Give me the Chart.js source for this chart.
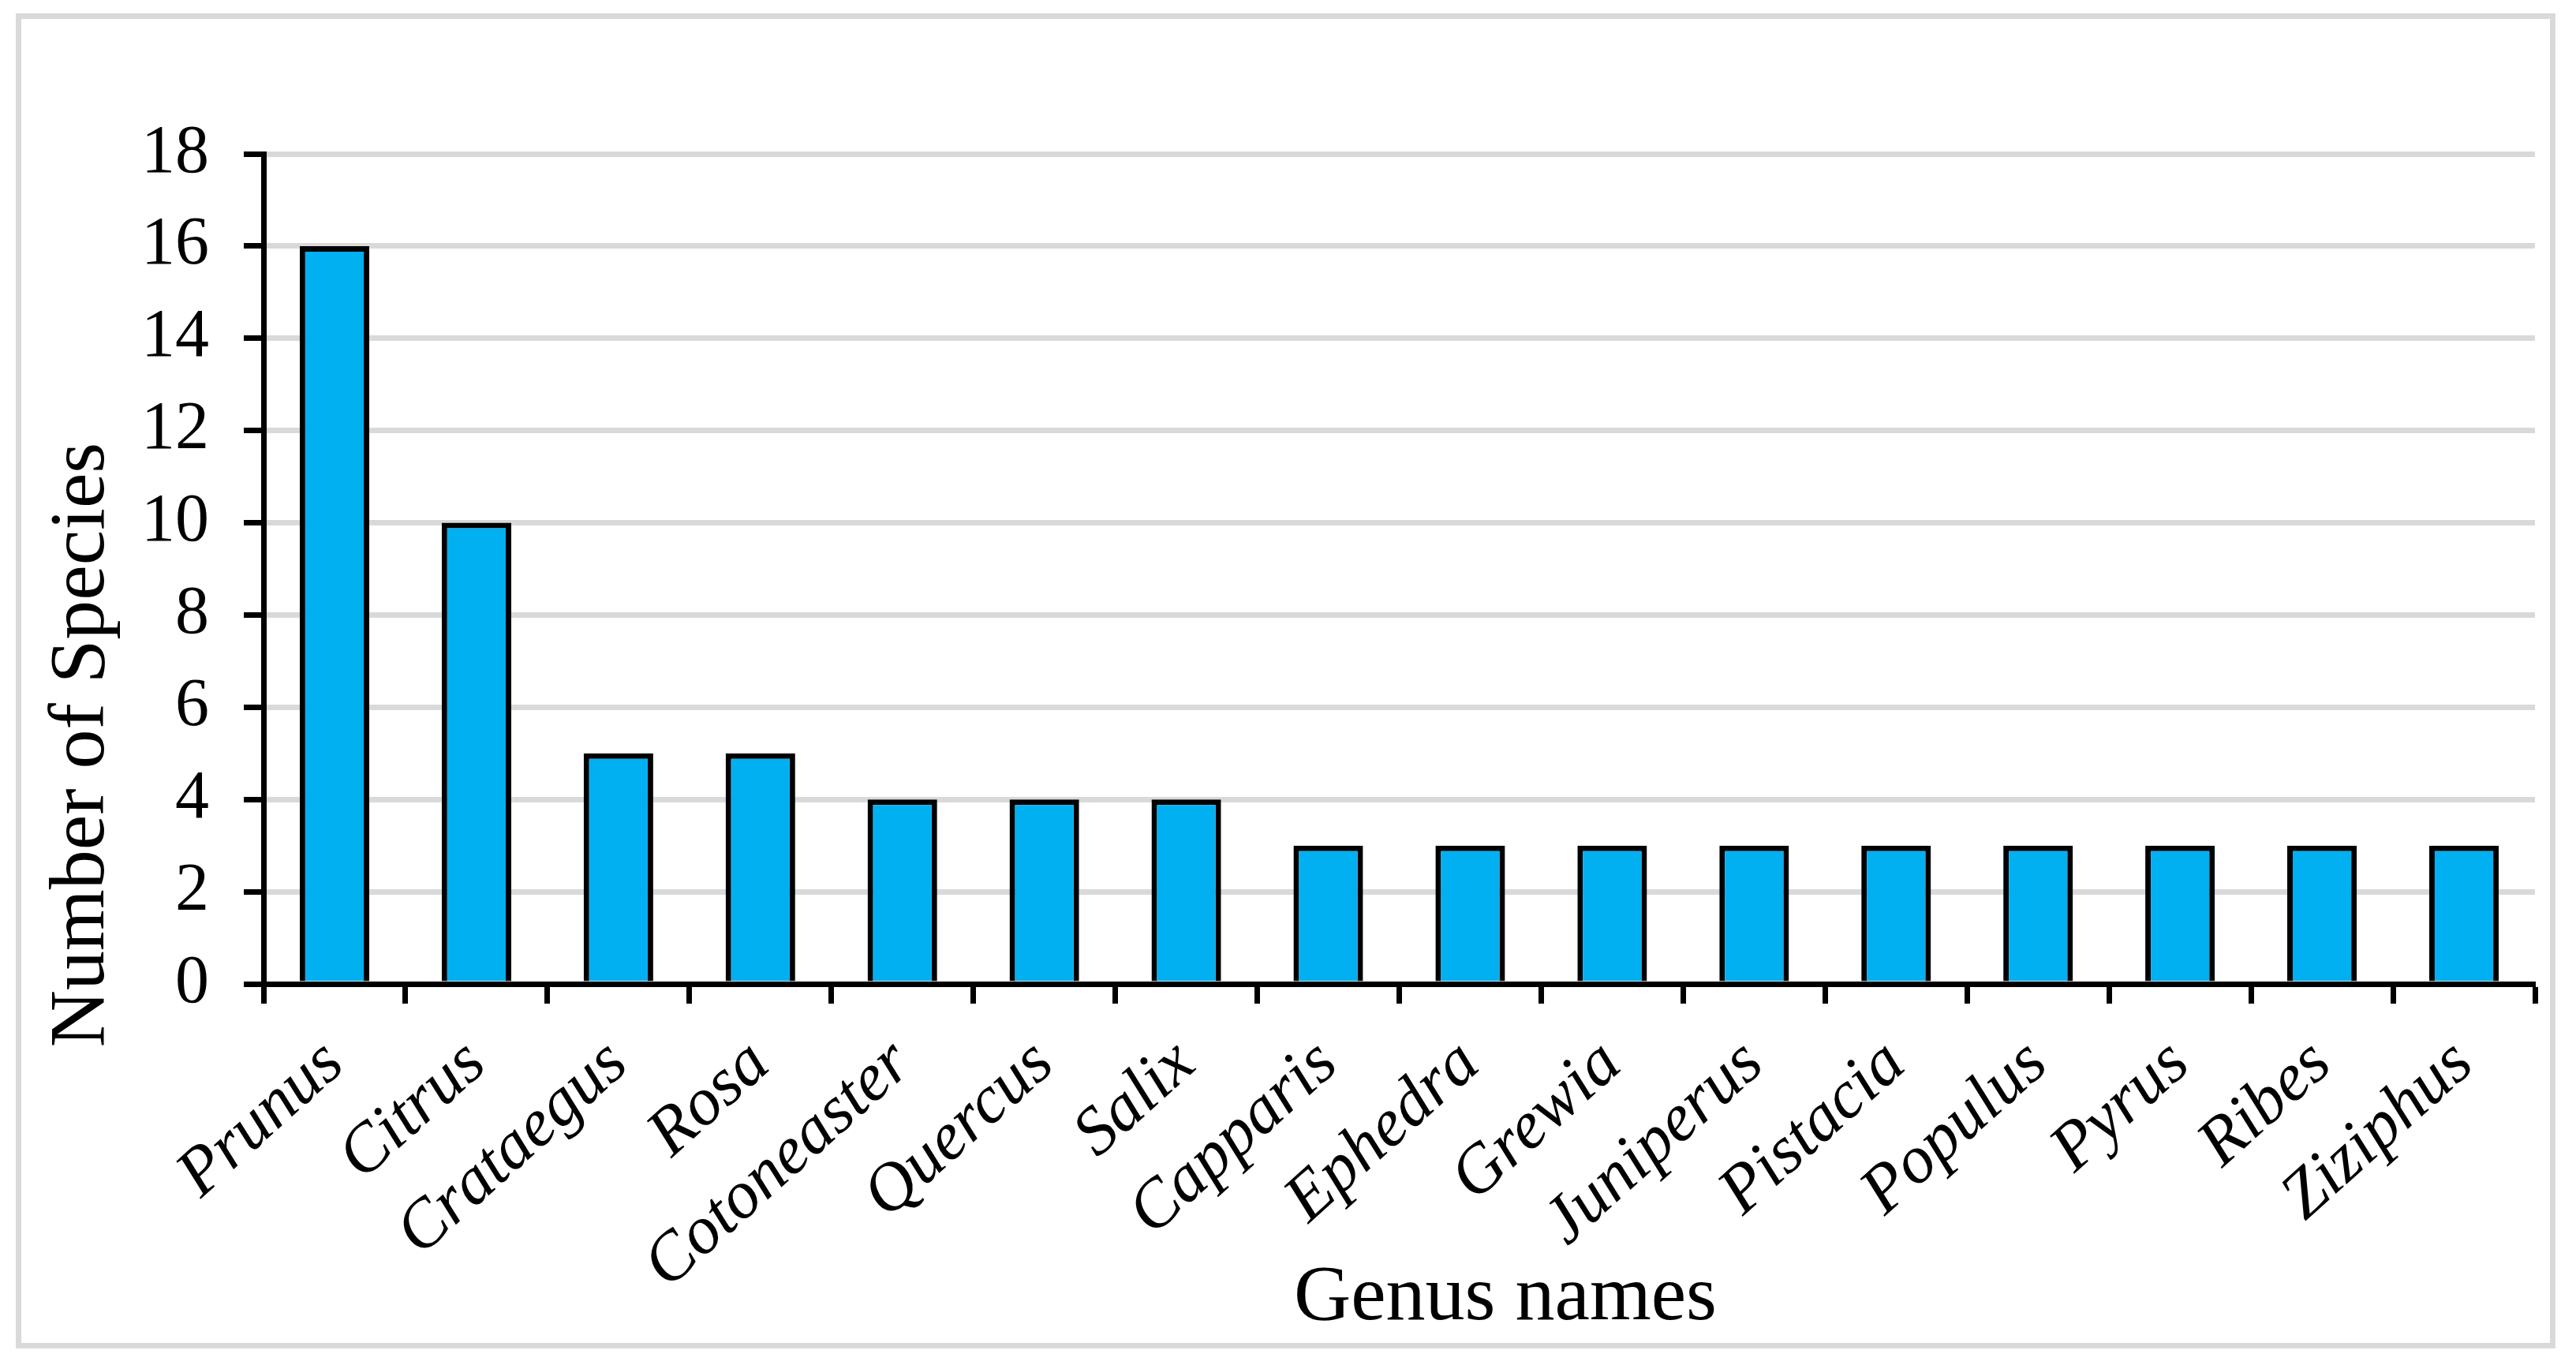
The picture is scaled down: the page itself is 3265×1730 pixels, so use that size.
<!DOCTYPE html>
<html>
<head>
<meta charset="utf-8">
<script src="https://cdn.jsdelivr.net/npm/chart.js@4/dist/chart.umd.min.js"></script>
<style>
  html, body { margin: 0; padding: 0; background: #ffffff; }
  #wrap { width: 3265px; height: 1730px; position: relative; }
  canvas { display: block; }
</style>
</head>
<body>
<div id="wrap"><canvas id="c" width="3265" height="1730"></canvas></div>
<script>
// ---- data ----
const categories = ['Prunus', 'Citrus', 'Crataegus', 'Rosa', 'Cotoneaster', 'Quercus', 'Salix',
  'Capparis', 'Ephedra', 'Grewia', 'Juniperus', 'Pistacia', 'Populus', 'Pyrus', 'Ribes', 'Ziziphus'];
const speciesCounts = [16, 10, 5, 5, 4, 4, 4, 3, 3, 3, 3, 3, 3, 3, 3, 3];
const yTickValues = [0, 2, 4, 6, 8, 10, 12, 14, 16, 18];
const xTitle = 'Genus names';
const yTitle = 'Number of Species';

const FONT = "'Liberation Serif', 'Times New Roman', serif";

const framePlugin = {
  id: 'frameAndTitles',
  beforeDraw(chart) {
    const ctx = chart.ctx;
    ctx.save();
    ctx.fillStyle = '#ffffff';
    ctx.fillRect(0, 0, chart.width, chart.height);
    ctx.strokeStyle = '#d9d9d9';
    ctx.lineWidth = 7;
    ctx.strokeRect(23.5, 20.5, 3212, 1685);
    ctx.restore();
  },
  afterDraw(chart) {
    const ctx = chart.ctx;
    ctx.save();
    ctx.fillStyle = '#000000';
    ctx.font = "100px " + FONT;
    // x title
    ctx.textAlign = 'center';
    ctx.textBaseline = 'alphabetic';
    ctx.fillText(xTitle, 1908, 1672);
    // y title
    ctx.translate(131, 944);
    ctx.rotate(-Math.PI / 2);
    ctx.fillText(yTitle, 0, 0);
    ctx.restore();
  }
};

new Chart(document.getElementById('c'), {
  type: 'bar',
  data: {
    labels: categories,
    datasets: [{
      data: speciesCounts,
      backgroundColor: '#00B0F0',
      borderColor: '#000000',
      borderWidth: 7,
      borderSkipped: 'start',
      barPercentage: 0.49,
      categoryPercentage: 1.0
    }]
  },
  options: {
    responsive: false,
    devicePixelRatio: 1,
    animation: false,
    layout: { padding: { top: 195, right: 52, left: 0, bottom: 0 } },
    plugins: { legend: { display: false }, tooltip: { enabled: false } },
    scales: {
      x: {
        offset: true,
        grid: {
          offset: true,
          drawOnChartArea: false,
          drawTicks: true,
          tickLength: 25,
          tickWidth: 7,
          tickColor: '#000000'
        },
        border: { display: true, color: '#000000', width: 7 },
        ticks: {
          autoSkip: false,
          minRotation: 42,
          maxRotation: 42,
          padding: 26,
          color: '#000000',
          font: { family: FONT, size: 86, style: 'italic' }
        },
        afterFit(scale) { scale.height = 483; }
      },
      y: {
        min: 0,
        max: 18,
        afterBuildTicks(scale) { scale.ticks = yTickValues.map(v => ({ value: v })); },
        grid: {
          color: '#d9d9d9',
          lineWidth: 7,
          drawTicks: true,
          tickLength: 25,
          tickWidth: 7,
          tickColor: '#000000'
        },
        border: { display: true, color: '#000000', width: 7 },
        ticks: {
          padding: 44,
          color: '#000000',
          font: { family: FONT, size: 86 }
        },
        afterFit(scale) { scale.width = 334; }
      }
    }
  },
  plugins: [framePlugin]
});
</script>
</body>
</html>
